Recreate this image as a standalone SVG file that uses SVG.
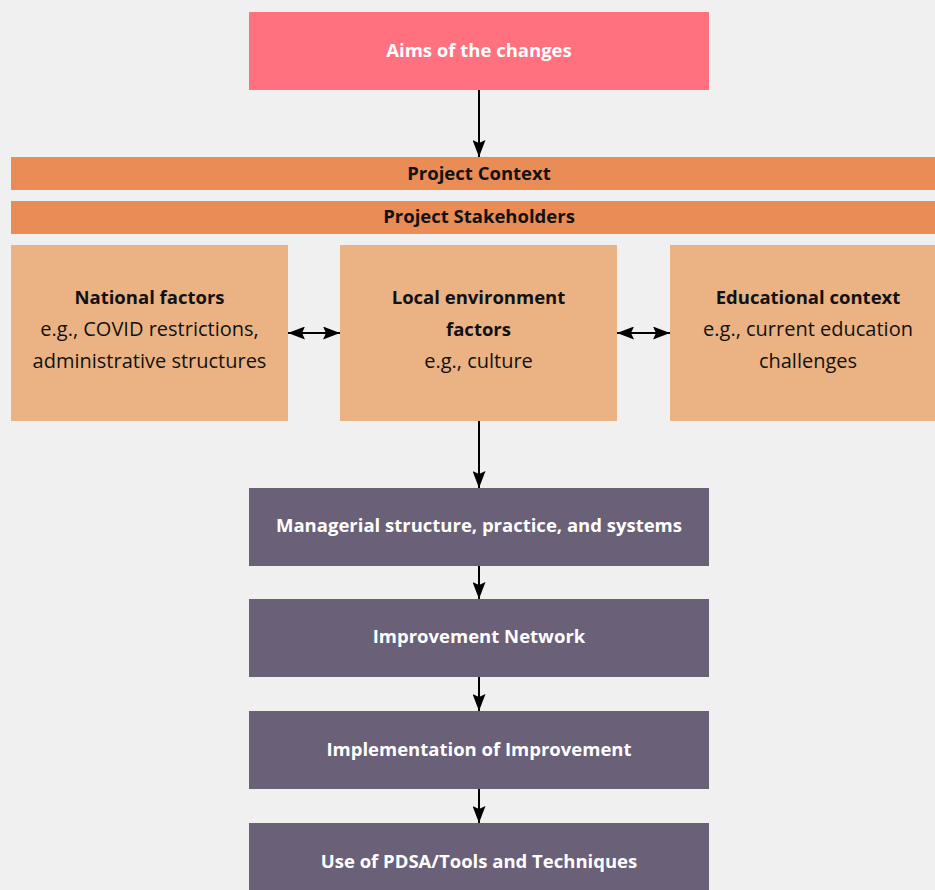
<svg xmlns="http://www.w3.org/2000/svg" width="935" height="890" viewBox="0 0 935 890">
<defs>
<style>
.t{font-family:"Open Sans","Noto Sans","Liberation Sans",sans-serif;font-size:20px;text-anchor:middle}
.b{font-weight:bold;font-size:18.5px}
.w{fill:#ffffff}
.k{fill:#111111}
.pink{fill:#FF717F}
.bar{fill:#EA8C55}
.lite{fill:#EBB384}
.pur{fill:#6A6077}
.c{stroke:#000;stroke-width:2;fill:none}
</style>
<marker id="ah" viewBox="0 0 17 13" refX="17" refY="6.5" markerWidth="17" markerHeight="13" markerUnits="userSpaceOnUse" orient="auto-start-reverse">
<path d="M0,0 L17,6.5 L0,13 L3,6.5 z" fill="#000"/>
</marker>
</defs>
<rect width="935" height="890" fill="#F0F0F0"/>
<g id="aims"><rect class="pink" x="249" y="12" width="460" height="78"/><text class="t b w" x="479" y="57">Aims of the changes</text></g>
<g id="context"><rect class="bar" x="11" y="157" width="930" height="33"/><text class="t b k" x="479" y="180">Project Context</text></g>
<g id="stakeholders"><rect class="bar" x="11" y="201" width="930" height="33"/><text class="t b k" x="479" y="223">Project Stakeholders</text></g>
<g id="national"><rect class="lite" x="11" y="245" width="277" height="176"/>
<text class="t k" x="149.5" y="304"><tspan class="b">National factors</tspan><tspan x="149.5" y="336">e.g., COVID restrictions,</tspan><tspan x="149.5" y="368">administrative structures</tspan></text></g>
<g id="local"><rect class="lite" x="340" y="245" width="277" height="176"/>
<text class="t k" x="478.5" y="304"><tspan class="b">Local environment</tspan><tspan class="b" x="478.5" y="336">factors</tspan><tspan x="478.5" y="368">e.g., culture</tspan></text></g>
<g id="educational"><rect class="lite" x="670" y="245" width="277" height="176"/>
<text class="t k" x="808" y="304"><tspan class="b">Educational context</tspan><tspan x="808" y="336">e.g., current education</tspan><tspan x="808" y="368">challenges</tspan></text></g>
<g id="managerial"><rect class="pur" x="249" y="488" width="460" height="78"/><text class="t b w" x="479" y="532">Managerial structure, practice, and systems</text></g>
<g id="network"><rect class="pur" x="249" y="599" width="460" height="78"/><text class="t b w" x="479" y="643">Improvement Network</text></g>
<g id="implementation"><rect class="pur" x="249" y="711" width="460" height="78"/><text class="t b w" x="479" y="756">Implementation of Improvement</text></g>
<g id="pdsa"><rect class="pur" x="249" y="823" width="460" height="78"/><text class="t b w" x="479" y="868">Use of PDSA/Tools and Techniques</text></g>
<g id="connectors">
<line class="c" x1="479" y1="90" x2="479" y2="157" marker-end="url(#ah)"/>
<line class="c" x1="288" y1="333" x2="340" y2="333" marker-start="url(#ah)" marker-end="url(#ah)"/>
<line class="c" x1="617" y1="333" x2="670" y2="333" marker-start="url(#ah)" marker-end="url(#ah)"/>
<line class="c" x1="479" y1="421" x2="479" y2="488" marker-end="url(#ah)"/>
<line class="c" x1="479" y1="566" x2="479" y2="599" marker-end="url(#ah)"/>
<line class="c" x1="479" y1="677" x2="479" y2="711" marker-end="url(#ah)"/>
<line class="c" x1="479" y1="789" x2="479" y2="823" marker-end="url(#ah)"/>
</g>
</svg>
